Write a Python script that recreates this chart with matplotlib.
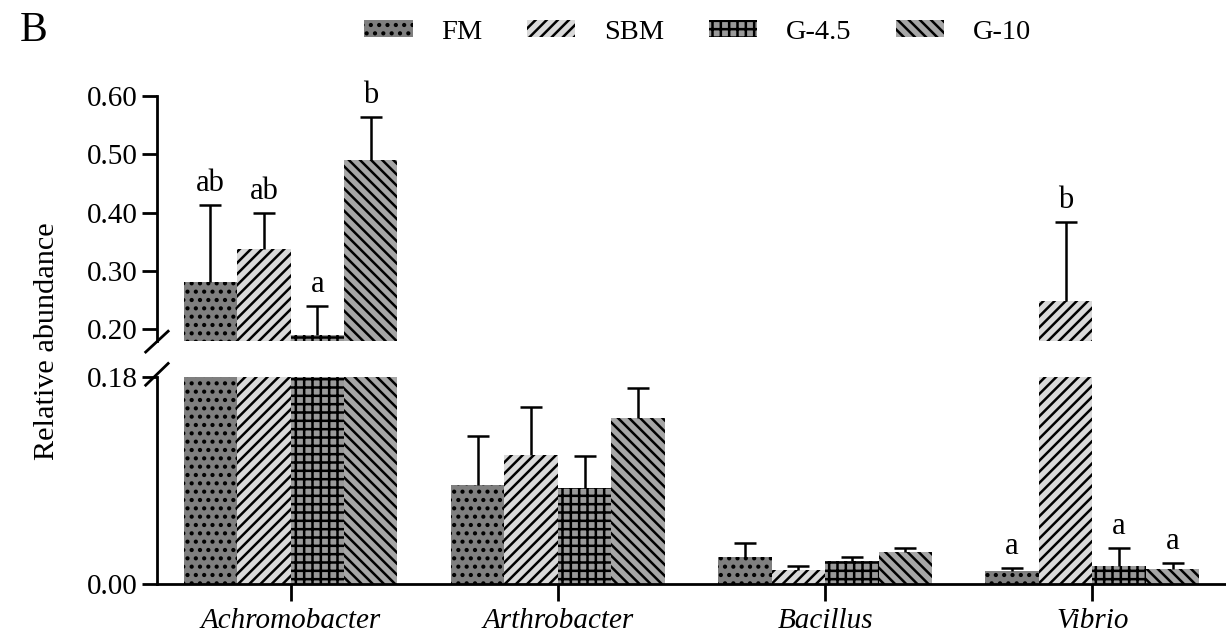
import numpy as np
import matplotlib
matplotlib.use('Agg')
import matplotlib.pyplot as plt
from matplotlib.patches import Patch

plt.rcParams['font.family'] = ['Liberation Serif', 'DejaVu Serif']
plt.rcParams['hatch.linewidth'] = 1.8

# datos
genera = ['Achromobacter', 'Arthrobacter', 'Bacillus', 'Vibrio']
groups = ['FM', 'SBM', 'G-4.5', 'G-10']
fm = [0.282, 0.086, 0.023, 0.011]
sbm = [0.337, 0.112, 0.012, 0.249]
g45 = [0.190, 0.083, 0.020, 0.016]
g10 = [0.490, 0.144, 0.028, 0.013]
fm_err = [0.131, 0.043, 0.013, 0.003]
sbm_err = [0.062, 0.042, 0.004, 0.135]
g45_err = [0.050, 0.028, 0.003, 0.015]
g10_err = [0.074, 0.026, 0.003, 0.005]
fm_lab = ['ab', '', '', 'a']
sbm_lab = ['ab', '', '', 'b']
g45_lab = ['a', '', '', 'a']
g10_lab = ['b', '', '', 'a']

values = [fm, sbm, g45, g10]
errors = [fm_err, sbm_err, g45_err, g10_err]
letters = [fm_lab, sbm_lab, g45_lab, g10_lab]
colors = ['#7f7f7f', '#d9d9d9', '#9a9a9a', '#a6a6a6']
hatches = ['..', '///', '++', '\\\\\\']

cut = 0.18
fs = 21

fig = plt.figure(figsize=(12.26, 6.41), dpi=100)
ax_top = fig.add_axes([0.128, 0.468, 0.872, 0.382])
ax_bot = fig.add_axes([0.128, 0.089, 0.872, 0.323], sharex=ax_top)

x = np.arange(len(genera))
w = 0.2
cap = 0.041
for i in range(4):
    pos = x + (i - 1.5) * w
    val = np.array(values[i])
    top = val + np.array(errors[i])
    for ax in (ax_top, ax_bot):
        ax.bar(pos, val, w, color=colors[i], edgecolor='black',
               linewidth=0, hatch=hatches[i])
        # solo la barra de error superior
        ax.vlines(pos, val, top, color='black', lw=1.8)
        ax.hlines(top, pos - cap, pos + cap, color='black', lw=1.8)
    for j in range(4):
        if letters[i][j] == '':
            continue
        ax = ax_top if top[j] > cut else ax_bot
        ax.annotate(letters[i][j], (pos[j], top[j]), xytext=(0, 5),
                    textcoords='offset points', ha='center', va='bottom',
                    fontsize=22)

ax_top.set_ylim(cut, 0.60)
ax_bot.set_ylim(0, cut)
ax_bot.set_xlim(-0.5, 3.5)
ax_top.set_yticks([0.2, 0.3, 0.4, 0.5, 0.6])
ax_top.set_yticklabels(['0.20', '0.30', '0.40', '0.50', '0.60'])
ax_bot.set_yticks([0, 0.18])
ax_bot.set_yticklabels(['0.00', '0.18'])
ax_bot.set_xticks(x)
ax_bot.set_xticklabels(genera, style='italic', fontsize=23.5)

for ax in (ax_top, ax_bot):
    ax.spines['top'].set_visible(False)
    ax.spines['right'].set_visible(False)
    ax.spines['left'].set_linewidth(2)
    ax.spines['bottom'].set_linewidth(2)
    ax.tick_params(width=2, length=11, labelsize=fs, direction='out', pad=3)
ax_top.spines['bottom'].set_visible(False)
ax_top.tick_params(axis='x', bottom=False, labelbottom=False)
ax_bot.tick_params(axis='x', length=12, pad=5)

# marcas de corte
kw = dict(color='black', lw=2, clip_on=False)
ax_top.plot([-0.0105, 0.0105], [-0.045, 0.04], transform=ax_top.transAxes, **kw)
ax_bot.plot([-0.0105, 0.0105], [0.96, 1.065], transform=ax_bot.transAxes, **kw)

fig.text(0.038, 0.467, 'Relative abundance', rotation=90, ha='center',
         va='center', fontsize=21.8)
fig.text(0.016, 0.952, 'B', fontsize=30, ha='left', va='center')

handles = [Patch(facecolor=colors[i], edgecolor='black', linewidth=0,
                 hatch=hatches[i]) for i in range(4)]
fig.legend(handles, groups, loc='center', bbox_to_anchor=(0.569, 0.95), ncol=4,
           frameon=False, fontsize=20.5, handlelength=1.7, handleheight=0.58,
           handletextpad=1.0, columnspacing=1.57)

fig.savefig('out.png', dpi=100)
